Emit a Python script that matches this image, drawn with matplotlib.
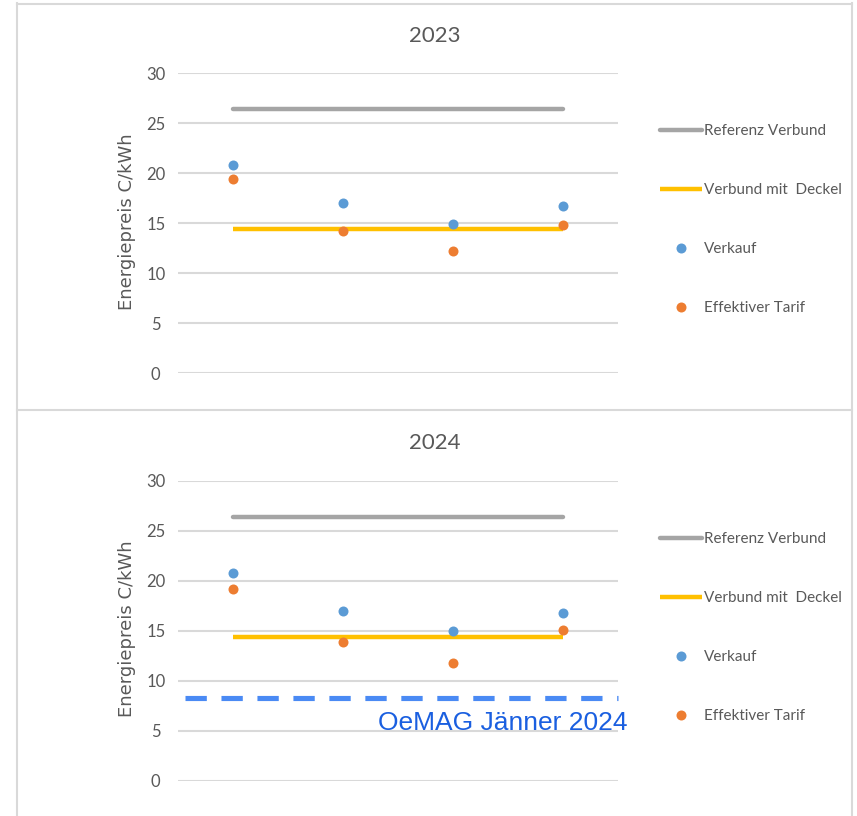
import matplotlib
matplotlib.use("Agg")
import matplotlib.pyplot as plt
from matplotlib.lines import Line2D

# ---- data ----
categories = ["A", "B", "C", "D"]
years = ["2023", "2024"]
referenz_verbund = [26.4, 26.35]
verbund_mit_deckel = [14.4, 14.4]
verkauf_2023 = [20.8, 17.0, 14.95, 16.75]
effektiv_2023 = [19.45, 14.25, 12.2, 14.85]
verkauf_2024 = [20.75, 16.95, 14.95, 16.75]
effektiv_2024 = [19.2, 13.85, 11.8, 15.05]
oemag_value = 8.3
oemag_label = "OeMAG Jänner 2024"
yticks = [0, 5, 10, 15, 20, 25, 30]
ylabel = "Energiepreis C/kWh"
legend_labels = ["Referenz Verbund", "Verbund mit  Deckel", "Verkauf", "Effektiver Tarif"]

C_GRAY = "#A5A5A5"
C_YEL = "#FFC000"
C_BLUE = "#5B9BD5"
C_ORA = "#ED7D31"
C_TXT = "#595959"
C_GRID = "#D9D9D9"

W, H = 857, 816
fig = plt.figure(figsize=(W / 100, H / 100), dpi=100)
fig.patch.set_facecolor("white")

def fx(px):
    return px / W

def fy(py):
    return 1 - py / H

# panel borders
fig.add_artist(Line2D([fx(17), fx(17)], [fy(3), fy(816)], color=C_GRID, lw=1.5, transform=fig.transFigure))
fig.add_artist(Line2D([fx(852), fx(852)], [fy(3), fy(816)], color=C_GRID, lw=1.5, transform=fig.transFigure))
fig.add_artist(Line2D([fx(17), fx(852)], [fy(4), fy(4)], color=C_GRID, lw=1.5, transform=fig.transFigure))
fig.add_artist(Line2D([fx(17), fx(852)], [fy(410), fy(410)], color=C_GRID, lw=1.5, transform=fig.transFigure))

x = [i + 0.5 for i in range(len(categories))]

panels = [
    dict(year=years[0], top=73.3, bottom=373.3, verk=verkauf_2023, eff=effektiv_2023,
         ref=referenz_verbund[0], deck=verbund_mit_deckel[0], title_y=36, leg_y=219.5, oemag=False),
    dict(year=years[1], top=481, bottom=780.7, verk=verkauf_2024, eff=effektiv_2024,
         ref=referenz_verbund[1], deck=verbund_mit_deckel[1], title_y=443, leg_y=627.5, oemag=True),
]

for p in panels:
    ax = fig.add_axes([fx(178), fy(p["bottom"]), fx(618) - fx(178), (p["bottom"] - p["top"]) / H])
    ax.set_xlim(0, 4)
    ax.set_ylim(0, 30)
    ax.set_yticks(yticks)
    ax.set_xticks([])
    for s in ax.spines.values():
        s.set_visible(False)
    ax.grid(axis="y", color=C_GRID, lw=1.5)
    ax.set_axisbelow(True)
    ax.tick_params(axis="y", length=0, pad=16, labelcolor=C_TXT, labelsize=12)
    for lab in ax.get_yticklabels():
        lab.set_fontfamily("Lato")
        lab.set_horizontalalignment("center")
    ax.set_facecolor("none")

    l1, = ax.plot([x[0], x[-1]], [p["ref"], p["ref"]], color=C_GRAY, lw=3.2,
                  solid_capstyle="round", clip_on=False)
    l2, = ax.plot([x[0], x[-1]], [p["deck"], p["deck"]], color=C_YEL, lw=3.2,
                  solid_capstyle="butt", clip_on=False)
    l3, = ax.plot(x, p["verk"], "o", color=C_BLUE, ms=7.2, mew=0, clip_on=False)
    l4, = ax.plot(x, p["eff"], "o", color=C_ORA, ms=7.2, mew=0, clip_on=False)

    if p["oemag"]:
        ax.plot([0.064, 4.0], [oemag_value, oemag_value], color="#4A8AF4", lw=3.7,
                dashes=(4.15, 2.85), solid_capstyle="butt", dash_capstyle="butt", clip_on=False)
        fig.text(fx(503), fy(723), oemag_label, color="#1A5FE0", fontsize=19,
                 family="Liberation Sans", ha="center", va="center")

    fig.text(fx(435), fy(p["title_y"]), p["year"], color=C_TXT, fontsize=16,
             family="Lato", ha="center", va="center")
    fig.text(fx(127), fy((p["top"] + p["bottom"]) / 2 - 2), ylabel, color=C_TXT, fontsize=13,
             family="DejaVu Sans", rotation=90, ha="center", va="center")

    leg = ax.legend([l1, l2, l3, l4], legend_labels, loc="center left",
                    bbox_to_anchor=(fx(660), fy(p["leg_y"])), bbox_transform=fig.transFigure,
                    frameon=False, prop={"family": "Lato", "size": 11},
                    handlelength=2.75, handletextpad=0.1, labelspacing=2.95,
                    borderpad=0, borderaxespad=0, numpoints=1)
    for t in leg.get_texts():
        t.set_color(C_TXT)

fig.savefig("out.png", dpi=100, facecolor="white")
